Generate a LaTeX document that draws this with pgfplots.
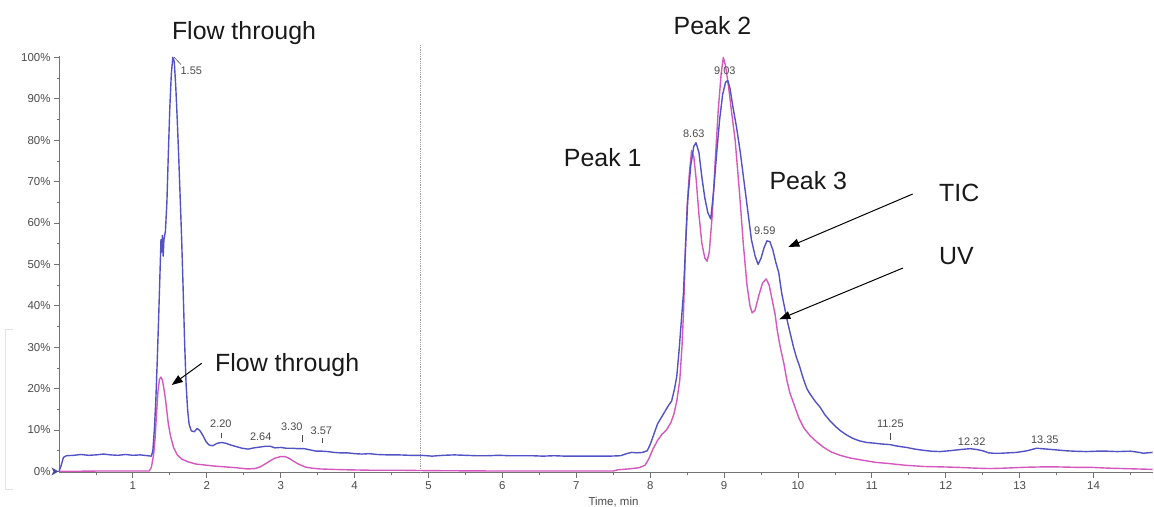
\documentclass[border=0pt]{standalone}
\usepackage{fontspec}
\setmainfont{Liberation Sans}
\usepackage{pgfplots}
\usepackage{pgfplotstable}
\pgfplotsset{compat=1.18}
\usetikzlibrary{arrows.meta}
\definecolor{tic}{RGB}{82,82,196}
\definecolor{uv}{RGB}{212,88,190}
\definecolor{axgray}{RGB}{115,115,115}
\definecolor{lblgray}{RGB}{75,75,75}

\pgfplotstableread{
t v
0.00 0.0
0.03 1.5
0.06 3.4
0.10 3.8
0.20 3.9
0.30 4.1
0.40 3.9
0.50 4.0
0.60 4.2
0.70 4.0
0.80 3.9
0.90 4.1
1.00 3.9
1.10 4.0
1.20 3.8
1.25 3.7
1.27 5.0
1.29 10
1.31 17
1.33 27
1.35 38
1.37 50
1.38 56
1.39 53
1.40 57
1.41 52
1.42 56
1.44 58
1.46 65
1.48 77
1.50 88
1.52 96
1.54 100
1.56 99
1.58 93
1.60 85
1.62 76
1.64 66
1.66 56
1.68 44
1.70 31
1.72 21
1.74 15
1.76 11.5
1.79 9.8
1.83 9.6
1.87 10.4
1.91 9.8
1.95 8.6
1.99 7.2
2.03 6.4
2.08 6.2
2.14 6.8
2.20 7.0
2.26 6.8
2.32 6.4
2.40 6.0
2.48 5.6
2.56 5.4
2.64 5.7
2.72 5.9
2.80 6.1
2.86 6.1
2.92 5.7
3.00 5.8
3.08 5.6
3.16 5.6
3.24 5.5
3.32 5.5
3.40 5.2
3.48 4.9
3.56 4.9
3.64 4.8
3.72 4.6
3.80 4.5
3.90 4.5
4.00 4.3
4.10 4.2
4.20 4.3
4.30 4.1
4.45 4.0
4.60 4.0
4.75 3.9
4.90 3.9
5.05 3.7
5.20 3.9
5.35 4.0
5.50 3.9
5.65 3.8
5.80 3.8
5.95 3.9
6.10 3.8
6.25 3.8
6.40 3.8
6.55 3.7
6.70 3.8
6.85 3.7
7.00 3.7
7.15 3.7
7.30 3.7
7.45 3.7
7.60 3.8
7.68 4.3
7.75 4.6
7.82 4.5
7.90 4.6
7.96 5.0
8.00 6.5
8.05 9.0
8.10 11.5
8.15 13
8.20 14.5
8.25 16
8.29 17
8.33 20
8.36 23
8.39 29
8.42 36
8.45 43
8.48 55
8.51 66
8.55 74
8.59 78.5
8.62 79.4
8.66 77
8.70 71
8.74 66
8.78 62.5
8.82 61
8.86 68
8.90 77
8.94 85
8.98 91
9.02 94
9.05 94.4
9.08 92.5
9.12 88
9.17 83
9.22 77
9.27 70
9.32 63
9.37 56
9.42 52
9.46 50
9.50 51.5
9.54 54
9.58 55.7
9.62 55.5
9.66 53.5
9.70 50.5
9.74 48
9.78 43
9.82 39.5
9.86 36
9.90 33
9.94 30
9.98 27.5
10.02 25.5
10.07 22.5
10.12 20
10.16 18.8
10.23 17
10.30 15.5
10.36 13.8
10.43 12.3
10.50 11
10.57 9.9
10.65 8.9
10.74 8.0
10.83 7.4
10.93 7.0
11.05 6.8
11.15 6.6
11.24 6.5
11.35 6.1
11.47 5.8
11.58 5.4
11.70 5.1
11.80 4.9
11.92 4.8
12.05 5.0
12.20 5.3
12.33 5.5
12.42 5.3
12.50 5.0
12.58 4.5
12.64 4.4
12.75 4.4
12.85 4.5
12.96 4.6
13.10 5.0
13.23 5.6
13.37 5.4
13.50 5.2
13.62 5.0
13.73 4.9
13.90 4.8
14.05 4.9
14.18 4.9
14.32 4.8
14.50 4.9
14.62 4.6
14.67 4.4
14.80 4.6
}\tictable

\pgfplotstableread{
t v
0.00 0.0
0.50 0.1
1.00 0.1
1.22 0.1
1.25 1.0
1.28 4
1.30 8
1.32 14
1.34 19.5
1.36 22.3
1.38 22.8
1.40 22
1.42 20
1.44 17.5
1.46 14.5
1.48 11.4
1.51 8.5
1.55 5.8
1.60 4.0
1.66 3.0
1.75 2.3
1.85 1.8
1.95 1.6
2.10 1.3
2.25 1.1
2.40 0.9
2.55 0.6
2.65 0.7
2.72 1.1
2.78 1.7
2.85 2.5
2.92 3.2
3.00 3.6
3.06 3.6
3.12 3.1
3.18 2.4
3.25 1.7
3.33 1.1
3.42 0.8
3.54 0.6
3.70 0.5
3.90 0.4
4.20 0.3
4.60 0.3
5.00 0.2
6.00 0.1
7.00 0.1
7.50 0.1
7.56 0.4
7.70 0.6
7.85 0.9
7.93 1.5
7.98 3.0
8.04 5.5
8.10 7.5
8.16 9.0
8.22 10.0
8.28 11.8
8.32 13.8
8.36 17
8.40 22
8.43 30
8.45 38
8.48 55
8.50 64
8.53 72
8.56 77.5
8.59 76
8.62 71
8.66 62
8.70 55
8.74 51.5
8.77 50.8
8.80 53
8.84 62
8.88 75
8.92 87
8.96 96
8.99 100
9.02 98
9.06 93
9.10 87
9.15 80
9.21 67
9.26 55
9.31 45
9.35 40
9.38 38.3
9.42 39
9.47 42.5
9.52 45.5
9.57 46.5
9.61 45
9.65 41.5
9.69 38
9.72 34
9.76 30
9.81 26
9.85 22
9.89 19
9.95 16
10.01 13
10.08 10.5
10.16 8.7
10.25 7.2
10.34 5.9
10.45 4.7
10.57 3.9
10.72 3.2
10.88 2.7
11.05 2.2
11.24 1.9
11.45 1.5
11.70 1.2
11.95 1.1
12.15 1.0
12.40 0.8
12.60 0.7
12.80 0.8
13.05 1.0
13.30 1.1
13.50 1.1
13.75 1.0
13.95 1.0
14.20 0.8
14.40 0.7
14.60 0.6
14.80 0.5
}\uvtable

\begin{document}
\begin{tikzpicture}
\useasboundingbox (0bp,0bp) rectangle (1154bp,507bp);
\begin{axis}[
  at={(59bp,34.3bp)}, anchor=south west,
  scale only axis, width=1093.7bp, height=427.7bp,
  xmin=0, xmax=14.8, ymin=-0.3, ymax=103,
  axis x line*=bottom, axis y line*=left,
  x axis line style={axgray, line width=1bp},
  y axis line style={draw=none},
  xtick={1,2,3,4,5,6,7,8,9,10,11,12,13,14},
  xticklabels={1,2,3,4,5,6,7,8,9,10,11,12,13,14},
  minor xtick={0.5,1.5,2.5,3.5,4.5,5.5,6.5,7.5,8.5,9.5,10.5,11.5,12.5,13.5,14.5},
  ytick={0,10,20,30,40,50,60,70,80,90,100},
  yticklabels={0\%,10\%,20\%,30\%,40\%,50\%,60\%,70\%,80\%,90\%,100\%},
  minor ytick={5,15,25,35,45,55,65,75,85,95},
  tick align=outside,
  major tick length=5bp, minor tick length=2.5bp,
  tick style={axgray, line width=0.8bp},
  ticklabel style={font=\fontsize{11.5}{12}\selectfont, text=lblgray},
  clip=false,
]
\draw[gray!75, line width=0.9bp, dash pattern=on 1bp off 0.8bp] (axis cs:4.89,-0.3) -- (axis cs:4.89,103);
\draw[axgray, line width=1bp] (axis cs:0,-0.3) -- (axis cs:0,100.4);
\addplot[uv, line width=1.4bp, line join=round] table[x=t, y=v] {\uvtable};
\addplot[tic, line width=1.4bp, line join=round] table[x=t, y=v] {\tictable};
\fill[tic!85!black] (axis cs:0,0) ++(-0.5bp,0bp) -- ++(-7bp,4bp) -- ++(2bp,-4bp) -- ++(-2bp,-4bp) -- cycle;
% peak labels
\begin{scope}[every node/.style={font=\fontsize{11}{12}\selectfont, text=lblgray, inner sep=0pt}]
\node at (axis cs:1.79,96.7) {1.55};
\node at (axis cs:2.19,11.6) {2.20};
\node at (axis cs:2.73,8.45) {2.64};
\node at (axis cs:3.15,10.7) {3.30};
\node at (axis cs:3.55,9.9) {3.57};
\node at (axis cs:8.59,81.6) {8.63};
\node at (axis cs:9.01,96.7) {9.03};
\node at (axis cs:9.55,58.2) {9.59};
\node at (axis cs:11.25,11.6) {11.25};
\node at (axis cs:12.35,7.2) {12.32};
\node at (axis cs:13.34,7.7) {13.35};
\end{scope}
\draw[lblgray, line width=0.6bp] (axis cs:1.56,100) -- (axis cs:1.65,98.3);
\draw[lblgray, line width=0.8bp] (axis cs:2.20,9.2) -- (axis cs:2.20,8.2);
\draw[lblgray, line width=0.8bp] (axis cs:3.30,8.9) -- (axis cs:3.30,7.0);
\draw[lblgray, line width=0.8bp] (axis cs:3.57,8.0) -- (axis cs:3.57,6.8);
\draw[lblgray, line width=0.8bp] (axis cs:11.25,9.2) -- (axis cs:11.25,7.5);
\end{axis}
% left bracket
\draw[gray!22, line width=1bp] (13bp,177bp) -- (5bp,177bp) -- (5bp,17bp) -- (13bp,17bp);
% axis title
\node[anchor=north, inner sep=0pt, font=\fontsize{11.5}{12}\selectfont, text=lblgray] at (613.5bp,10bp) {Time, min};
% annotations
\begin{scope}[every node/.style={font=\fontsize{25}{30}\selectfont, text=black!90, inner sep=0pt}]
\node[anchor=base] at (244bp,467.7bp) {Flow through};
\node[anchor=base] at (712.5bp,472bp) {Peak 2};
\node[anchor=base east] at (641.7bp,340.3bp) {Peak 1};
\node[anchor=base west] at (769.3bp,317bp) {Peak 3};
\node[anchor=base west] at (939bp,305.3bp) {TIC};
\node[anchor=base west] at (939bp,242bp) {UV};
\node[anchor=base west] at (215bp,135.3bp) {Flow through};
\end{scope}
\begin{scope}[line width=1bp, black]
\draw[-{Triangle[length=11bp,width=8bp]}] (201.7bp,143.7bp) -- (171.7bp,122bp);
\draw[-{Triangle[length=11bp,width=8bp]}] (912.7bp,313bp) -- (788.3bp,260bp);
\draw[-{Triangle[length=11bp,width=8bp]}] (903bp,239bp) -- (779.3bp,187.7bp);
\end{scope}
\end{tikzpicture}
\end{document}
